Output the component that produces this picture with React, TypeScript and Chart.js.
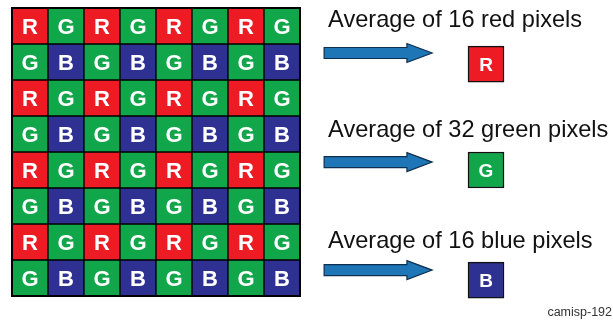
import React, { useEffect, useRef } from "react";
import { Chart, registerables } from "chart.js";

Chart.register(...registerables);

// ---- data ----
const bayerRows: string[] = [
  "RGRGRGRG",
  "GBGBGBGB",
  "RGRGRGRG",
  "GBGBGBGB",
  "RGRGRGRG",
  "GBGBGBGB",
  "RGRGRGRG",
  "GBGBGBGB",
];
const avgChannels: string[] = ["R", "G", "B"];
const avgLabels: string[] = [
  "Average of 16 red pixels",
  "Average of 32 green pixels",
  "Average of 16 blue pixels",
];
const footnote = "camisp-192";

// ---- styles / layout ----
const W = 613;
const H = 322;
const CELL = 36;
const GRID_LEFT = 12;
const GRID_TOP = 8;
const COLORS: Record<string, string> = { R: "#ED1C24", G: "#12A64B", B: "#2E3192" };
const FONT = '"Liberation Sans", Arial, Helvetica, sans-serif';
// layout in cell units
const AVG_X = 13.167;
const AVG_TOP = [1.06, 4.0, 7.06];
const TEXT_X = 8.78;
const TEXT_BASE = [0.53, 3.58, 6.67];
const ARROW_X0 = 8.67;
const ARROW_HEAD = 10.97;
const ARROW_X1 = 11.67;
const ARROW_Y = [1.25, 4.28, 7.28];

export default function App() {
  const ref = useRef<HTMLCanvasElement | null>(null);

  useEffect(() => {
    if (!ref.current) return;
    const gridDatasets = bayerRows.map((row, r) => ({
      label: "row" + r,
      data: row.split("").map((ch, c) => ({ x: c + 0.5, y: [r, r + 1] })),
      backgroundColor: row.split("").map((ch) => COLORS[ch]),
      borderColor: "#000",
      borderWidth: 1,
      borderSkipped: false as any,
      letters: row.split(""),
      fontSize: 22,
    }));
    const avgDataset = {
      label: "avg",
      data: avgChannels.map((ch, i) => ({ x: AVG_X, y: [AVG_TOP[i], AVG_TOP[i] + 1] })),
      backgroundColor: avgChannels.map((ch) => COLORS[ch]),
      borderColor: "#111",
      borderWidth: 1.5,
      borderSkipped: false as any,
      letters: avgChannels,
      fontSize: 19,
    };

    const letterPlugin = {
      id: "letters",
      afterDatasetsDraw(chart: any) {
        const ctx = chart.ctx;
        const xs = chart.scales.x;
        const ys = chart.scales.y;
        // outer frame of grid
        ctx.save();
        ctx.strokeStyle = "#000";
        ctx.lineWidth = 2;
        const gx0 = xs.getPixelForValue(0);
        const gx1 = xs.getPixelForValue(bayerRows[0].length);
        const gy0 = ys.getPixelForValue(0);
        const gy1 = ys.getPixelForValue(bayerRows.length);
        ctx.strokeRect(gx0, gy0, gx1 - gx0, gy1 - gy0);
        ctx.restore();

        chart.data.datasets.forEach((ds: any, di: number) => {
          const meta = chart.getDatasetMeta(di);
          meta.data.forEach((el: any, i: number) => {
            const cx = el.x;
            const cy = (el.y + el.base) / 2;
            ctx.save();
            ctx.fillStyle = "#fff";
            ctx.font = `bold ${ds.fontSize}px ${FONT}`;
            ctx.textAlign = "center";
            ctx.textBaseline = "middle";
            ctx.fillText(ds.letters[i], cx, cy + 1.5);
            ctx.restore();
          });
        });

        // labels and arrows
        ctx.save();
        ctx.fillStyle = "#111";
        ctx.font = `23.6px ${FONT}`;
        ctx.textAlign = "left";
        ctx.textBaseline = "alphabetic";
        avgLabels.forEach((t, i) => {
          ctx.fillText(t, xs.getPixelForValue(TEXT_X), ys.getPixelForValue(TEXT_BASE[i]));
        });
        avgLabels.forEach((t, i) => {
          const x0 = xs.getPixelForValue(ARROW_X0);
          const xh = xs.getPixelForValue(ARROW_HEAD);
          const x1 = xs.getPixelForValue(ARROW_X1);
          const cy = ys.getPixelForValue(ARROW_Y[i]);
          ctx.beginPath();
          ctx.moveTo(x0, cy - 5.5);
          ctx.lineTo(xh, cy - 5.5);
          ctx.lineTo(xh, cy - 9.5);
          ctx.lineTo(x1, cy);
          ctx.lineTo(xh, cy + 9.5);
          ctx.lineTo(xh, cy + 5.5);
          ctx.lineTo(x0, cy + 5.5);
          ctx.closePath();
          ctx.fillStyle = "#1E76B6";
          ctx.fill();
          ctx.lineWidth = 1.2;
          ctx.strokeStyle = "#0E2F4F";
          ctx.stroke();
        });
        ctx.fillStyle = "#333";
        ctx.font = `12.5px ${FONT}`;
        ctx.textAlign = "right";
        ctx.fillText(footnote, W - 1, 316);
        ctx.restore();
      },
    };

    const chart = new Chart(ref.current, {
      type: "bar",
      data: { datasets: [...gridDatasets, avgDataset] as any },
      options: {
        responsive: false,
        animation: false,
        events: [],
        layout: { padding: 0 },
        datasets: {
          bar: {
            grouped: false,
            categoryPercentage: 1,
            barPercentage: 1,
            maxBarThickness: CELL,
          } as any,
        },
        scales: {
          x: {
            type: "linear",
            display: false,
            min: -GRID_LEFT / CELL,
            max: (W - GRID_LEFT) / CELL,
            afterBuildTicks: (s: any) => {
              s.ticks = [];
            },
          },
          y: {
            type: "linear",
            display: false,
            reverse: true,
            min: -GRID_TOP / CELL,
            max: (H - GRID_TOP) / CELL,
            afterBuildTicks: (s: any) => {
              s.ticks = [];
            },
          },
        },
        plugins: {
          legend: { display: false },
          tooltip: { enabled: false },
        },
      },
      plugins: [letterPlugin],
    });
    return () => chart.destroy();
  }, []);

  return (
    <div style={{ position: "fixed", left: 0, top: 0, width: W, height: H, background: "#fff" }}>
      <canvas ref={ref} width={W} height={H} style={{ display: "block" }} />
    </div>
  );
}
